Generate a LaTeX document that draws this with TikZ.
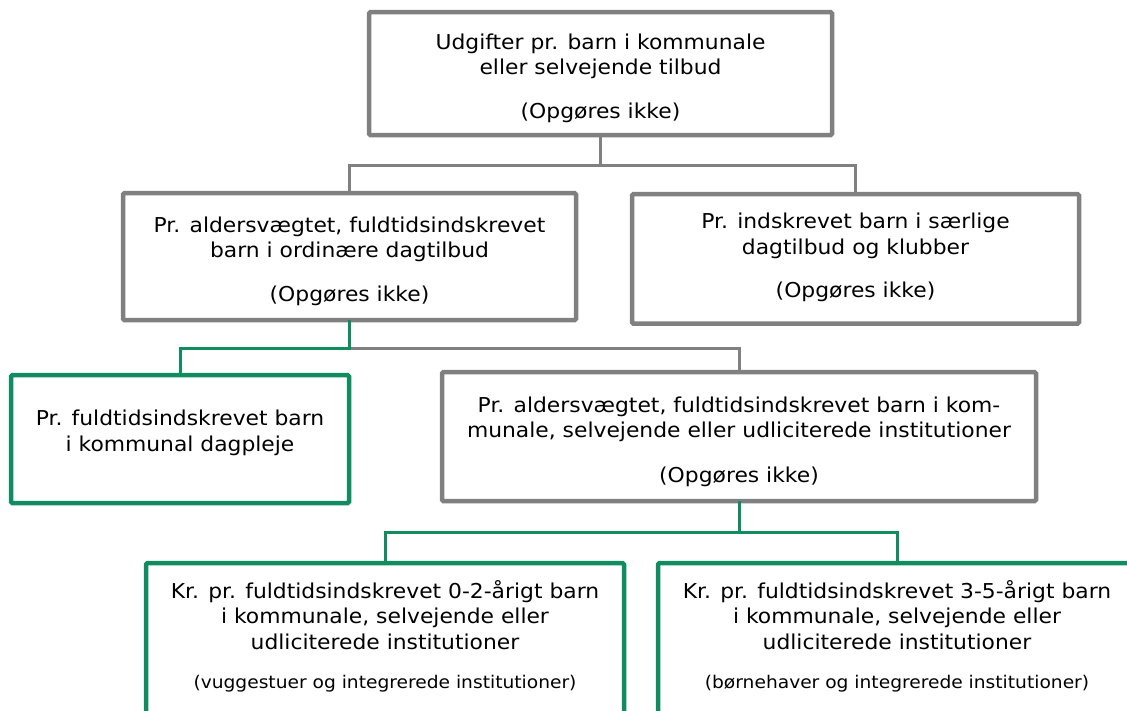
\documentclass[tikz,border=0pt]{standalone}
\usepackage{fontspec}
\setmainfont{DejaVu Sans}[FakeStretch=1.065]
\definecolor{boxgrey}{RGB}{128,128,128}
\definecolor{boxgreen}{RGB}{16,140,96}
\newcommand{\smalltxt}{\fontsize{17.5}{21}\selectfont}
\begin{document}
\begin{tikzpicture}[x=1pt,y=-1pt,
		every node/.style={rectangle,rounded corners=1.5pt,line width=4.5pt,align=center,anchor=north,outer sep=0pt,inner xsep=2pt,font=\fontsize{20.5}{25.5}\selectfont},
		greybox/.style={draw=boxgrey},
		greenbox/.style={draw=boxgreen},
		greyline/.style={draw=boxgrey,line width=3pt},
		greenline/.style={draw=boxgreen,line width=3pt}]
	\path[use as bounding box,clip] (0,0) rectangle (1127,710);
	\node[greybox,minimum width=463pt,inner ysep=17.1pt,text height=89pt,text depth=0pt] (total) at (600.5,12)
		{Udgifter pr. barn i kommunale\\eller selvejende tilbud\\[18pt](Opgøres ikke)};
	\node[greybox,minimum width=453pt,inner ysep=19.1pt,text height=89pt,text depth=0pt] (ordin) at (349.5,193)
		{Pr. aldersvægtet, fuldtidsindskrevet\\barn i ordinære dagtilbud\\[18pt](Opgøres ikke)};
	\node[greybox,minimum width=447pt,inner ysep=19.1pt,text depth=6.8pt] (saerl) at (855.5,194)
		{Pr. indskrevet barn i særlige\\dagtilbud og klubber\\[18pt](Opgøres ikke)};
	\node[greenbox,minimum width=338pt,inner ysep=35.1pt,text depth=16.8pt] (dagpl) at (180,375)
		{Pr. fuldtidsindskrevet barn\\i kommunal dagpleje};
	\node[greybox,minimum width=594pt,inner ysep=19.1pt,text height=91pt,text depth=0pt] (instit) at (739,372)
		{Pr. aldersvægtet, fuldtidsindskrevet barn i kom-\\munale, selvejende eller udliciterede institutioner\\[19pt](Opgøres ikke)};
	\node[greenbox,minimum width=478pt,inner ysep=17.1pt,text depth=140pt] (nultoaar) at (385,563)
		{Kr. pr. fuldtidsindskrevet 0-2-årigt barn\\i kommunale, selvejende eller\\udliciterede institutioner\\[14pt]{\smalltxt(vuggestuer og integrerede institutioner)}};
	\node[greenbox,minimum width=478pt,inner ysep=17.1pt,text depth=140pt] (tretofem) at (897,563)
		{Kr. pr. fuldtidsindskrevet 3-5-årigt barn\\i kommunale, selvejende eller\\udliciterede institutioner\\[14pt]{\smalltxt(børnehaver og integrerede institutioner)}};
	% forbindelser
	\draw[greyline] (total.south) -- ++(0,30) -| (ordin.north);
	\draw[greyline] (total.south) -- ++(0,30) -| (saerl.north);
	\draw[greyline] (ordin.south) -- ++(0,28) -| (instit.north);
	\draw[greenline] (ordin.south) -- ++(0,28) -| (dagpl.north);
	\draw[greenline] (instit.south) -- ++(0,31) -| (nultoaar.north);
	\draw[greenline] (instit.south) -- ++(0,31) -| (tretofem.north);
\end{tikzpicture}
\end{document}
